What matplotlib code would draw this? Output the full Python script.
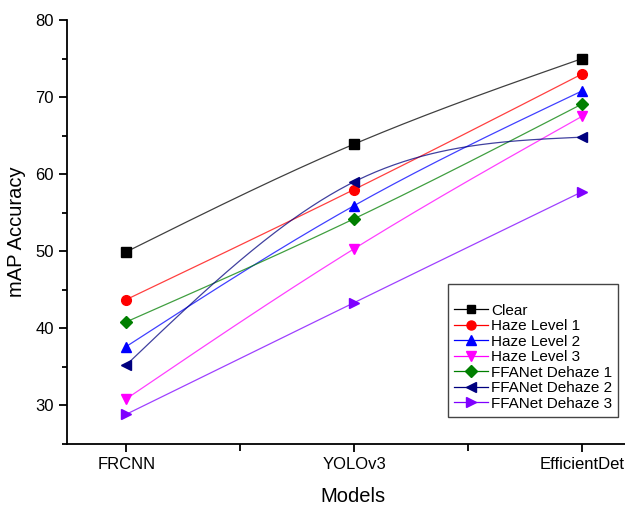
import numpy as np
import matplotlib
matplotlib.use("Agg")
import matplotlib.pyplot as plt
from matplotlib.ticker import MultipleLocator

plt.rcParams['font.family'] = ['Liberation Sans', 'DejaVu Sans']

# data
models = ['FRCNN', 'YOLOv3', 'EfficientDet']
clear = [49.9, 63.9, 75.0]
haze_1 = [43.7, 58.0, 73.0]
haze_2 = [37.6, 55.9, 70.8]
haze_3 = [30.8, 50.3, 67.5]
ffa_1 = [40.8, 54.2, 69.1]
ffa_2 = [35.2, 59.0, 64.8]
ffa_3 = [28.8, 43.3, 57.7]

series = [
    ('Clear', clear, 'black', 's', 6.5),
    ('Haze Level 1', haze_1, 'red', 'o', 7),
    ('Haze Level 2', haze_2, 'blue', '^', 7.5),
    ('Haze Level 3', haze_3, 'magenta', 'v', 7.5),
    ('FFANet Dehaze 1', ffa_1, '#007f00', 'D', 6.5),
    ('FFANet Dehaze 2', ffa_2, '#00007f', '<', 7.5),
    ('FFANet Dehaze 3', ffa_3, '#7f00ff', '>', 7.5),
]


# natural cubic spline through equally spaced points (like Origin's spline line)
def spline(y, n=200):
    y = np.asarray(y, float)
    k = len(y)
    A = np.zeros((k, k))
    b = np.zeros(k)
    A[0, 0] = A[-1, -1] = 1
    for i in range(1, k - 1):
        A[i, i - 1:i + 2] = [1, 4, 1]
        b[i] = 6 * (y[i - 1] - 2 * y[i] + y[i + 1])
    M = np.linalg.solve(A, b)
    xs = np.linspace(0, k - 1, n)
    ys = np.empty_like(xs)
    for j, x in enumerate(xs):
        i = min(int(x), k - 2)
        a = i + 1 - x
        c = x - i
        ys[j] = (M[i] * a**3 / 6 + M[i + 1] * c**3 / 6
                 + (y[i] - M[i] / 6) * a + (y[i + 1] - M[i + 1] / 6) * c)
    return xs, ys


fig = plt.figure(figsize=(6.25, 5.07), dpi=100)
ax = fig.add_axes([0.1072, 0.1252, 0.915, 0.835])

x = np.arange(len(models))
for name, vals, col, mk, ms in series:
    xs, ys = spline(vals)
    ax.plot(xs, ys, color=col, lw=0.9, alpha=0.75)
    ax.plot(x, vals, color=col, lw=0, marker=mk, markersize=ms)
    # legend proxy
    ax.plot([], [], color=col, lw=0.9, alpha=0.75, marker=mk, markersize=ms - 0.5,
            markerfacecolor=col, markeredgecolor=col, label=name)

ax.set_xlim(-0.26, 2.25)
ax.set_ylim(25, 80)
ax.set_xticks(x)
ax.set_xticklabels(models)
ax.xaxis.set_minor_locator(MultipleLocator(0.5))
ax.yaxis.set_major_locator(MultipleLocator(10))
ax.yaxis.set_minor_locator(MultipleLocator(5))
ax.tick_params(which='major', direction='out', length=6, width=1.3, labelsize=12)
ax.tick_params(which='minor', direction='out', length=3.5, width=1.3)
ax.tick_params(axis='x', which='minor', length=5)
for s in ['top', 'right']:
    ax.spines[s].set_visible(False)
for s in ['left', 'bottom']:
    ax.spines[s].set_linewidth(1.3)

ax.set_xlabel('Models', fontsize=14.5, labelpad=11)
ax.set_ylabel('mAP Accuracy', fontsize=14.5, labelpad=7)

leg = ax.legend(loc='upper left', bbox_to_anchor=(448 / 625, 1 - 284 / 507),
                bbox_transform=fig.transFigure, fontsize=11, title=' ',
                title_fontsize=9, fancybox=False, framealpha=1,
                edgecolor='#444444', handlelength=2.2, handletextpad=0.2,
                labelspacing=0.1, borderpad=0.4, borderaxespad=0)
leg.get_frame().set_linewidth(1.0)
for h in leg.legend_handles:
    h.set_alpha(None)

fig.savefig('out.png', dpi=100)
